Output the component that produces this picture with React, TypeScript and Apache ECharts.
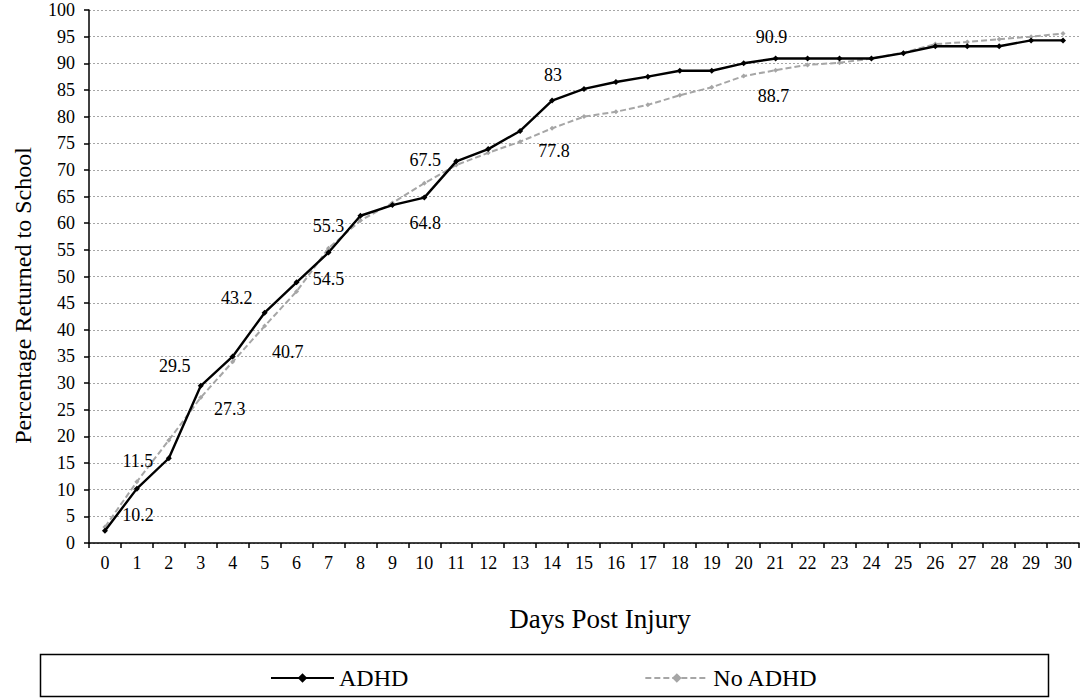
import React, { useEffect, useRef } from "react";
import * as echarts from "echarts";

const days: string[] = Array.from({ length: 31 }, (_, i) => String(i));

const adhdValues: number[] = [
  2.3, 10.2, 15.9, 29.5, 35.0, 43.2, 48.9, 54.5, 61.4, 63.4, 64.8, 71.6, 73.9, 77.3, 83.0, 85.2,
  86.5, 87.5, 88.6, 88.6, 90.0, 90.9, 90.9, 90.9, 90.9, 91.9, 93.2, 93.2, 93.2, 94.3, 94.3,
];

const noAdhdValues: number[] = [
  3.0, 11.5, 19.3, 27.3, 34.0, 40.7, 47.2, 55.3, 60.5, 63.8, 67.5, 70.9, 73.2, 75.3, 77.8, 80.0,
  80.9, 82.2, 84.0, 85.5, 87.6, 88.7, 89.7, 90.1, 90.9, 92.0, 93.6, 94.0, 94.5, 95.0, 95.6,
];

const yTicks: number[] = [0, 100, 5]; // min, max, interval

// indices of labelled points and their label offsets (style only)
const adhdLabelled: [number, number, number][] = [
  [1, 1, 26],
  [3, -26, -20],
  [5, -28, -15],
  [7, 0, 26],
  [10, 1, 25],
  [14, 1, -26],
  [21, -4, -22],
];
const noAdhdLabelled: [number, number, number][] = [
  [1, 1, -21],
  [3, 29, 12],
  [5, 23, 26],
  [7, 0, -22],
  [10, 1, -23],
  [14, 2, 23],
  [21, -2, 26],
];

const FONT = "Liberation Serif";

function buildData(values: number[], labelled: [number, number, number][]) {
  return values.map((v, i) => {
    const spec = labelled.find((l) => l[0] === i);
    if (!spec) return v;
    return {
      value: v,
      label: {
        show: true,
        position: "inside",
        offset: [spec[1], spec[2]],
        color: "#000",
        fontSize: 18,
        fontFamily: FONT,
      },
    };
  });
}

export default function App() {
  const ref = useRef<HTMLDivElement>(null);

  useEffect(() => {
    if (!ref.current) return;
    const chart = echarts.init(ref.current, null, { renderer: "svg" });
    chart.setOption({
      animation: false,
      backgroundColor: "#fff",
      textStyle: { fontFamily: FONT, color: "#000" },
      grid: { left: 89, right: 5, top: 10, bottom: 157 },
      xAxis: {
        type: "category",
        data: days,
        boundaryGap: true,
        name: "Days Post Injury",
        nameLocation: "middle",
        nameGap: 62,
        nameTextStyle: { fontSize: 27, fontFamily: FONT, color: "#000", padding: [0, 0, 0, 32] },
        axisLine: { lineStyle: { color: "#000", width: 1.5 } },
        axisTick: { show: true, length: 5, lineStyle: { color: "#000", width: 1.5 } },
        axisLabel: { interval: 0, fontSize: 18, margin: 11, color: "#000", fontFamily: FONT },
        splitLine: { show: false },
      },
      yAxis: {
        type: "value",
        min: yTicks[0],
        max: yTicks[1],
        interval: yTicks[2],
        name: "Percentage Returned to School",
        nameLocation: "middle",
        nameGap: 54,
        nameTextStyle: { fontSize: 24, fontFamily: FONT, color: "#000", padding: [0, 38, 0, 0] },
        axisLine: { show: true, lineStyle: { color: "#000", width: 1.5 } },
        axisTick: { show: true, length: 5, lineStyle: { color: "#000", width: 1.5 } },
        axisLabel: { fontSize: 18, margin: 14, color: "#000", fontFamily: FONT },
        splitLine: { show: true, lineStyle: { color: "#a6a6a6", type: [2, 2], width: 1 } },
      },
      legend: {
        left: 265,
        top: 661,
        itemWidth: 63,
        itemHeight: 12,
        itemGap: 236,
        textStyle: { fontSize: 24, fontFamily: FONT, color: "#000" },
        data: ["ADHD", "No ADHD"],
      },
      graphic: [
        {
          type: "rect",
          left: 38,
          top: 652,
          shape: { width: 1008, height: 42 },
          style: { fill: "none", stroke: "#000", lineWidth: 1.5 },
          silent: true,
        },
      ],
      series: [
        {
          name: "No ADHD",
          type: "line",
          data: buildData(noAdhdValues, noAdhdLabelled),
          symbol: "diamond",
          symbolSize: 5,
          showAllSymbol: true,
          itemStyle: { color: "#a6a6a6" },
          lineStyle: { color: "#a6a6a6", width: 2, type: [6, 3] },
          z: 2,
        },
        {
          name: "ADHD",
          type: "line",
          data: buildData(adhdValues, adhdLabelled),
          symbol: "diamond",
          symbolSize: 6,
          showAllSymbol: true,
          itemStyle: { color: "#000" },
          lineStyle: { color: "#000", width: 2.4 },
          z: 3,
        },
      ],
    });
    return () => chart.dispose();
  }, []);

  return (
    <div
      ref={ref}
      style={{ position: "fixed", left: 0, top: 0, width: 1084, height: 700, background: "#fff" }}
    />
  );
}
